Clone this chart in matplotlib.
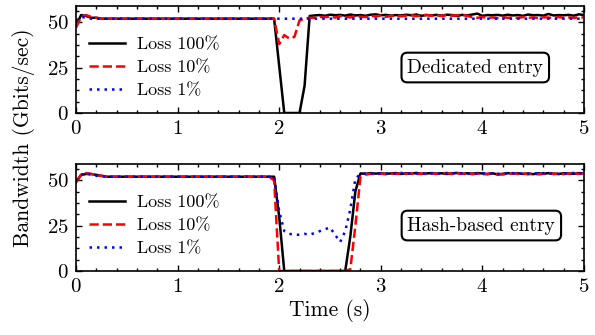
import numpy as np
import matplotlib
matplotlib.use('Agg')
import matplotlib.pyplot as plt

plt.rcParams['font.family'] = 'serif'
plt.rcParams['font.serif'] = ['cmr10']
plt.rcParams['mathtext.fontset'] = 'cm'
plt.rcParams['axes.formatter.use_mathtext'] = True
plt.rcParams['axes.unicode_minus'] = False

# time grid, 0.05 s steps
t = np.round(np.arange(101) * 0.05, 2)

# top panel: dedicated entry
ded_100 = [48, 54, 53.5, 52.5, 52.5, 52, 52, 52, 52, 52,
           52, 52, 52, 52, 52, 52, 52, 52, 52, 52,
           52, 52, 52, 52, 52, 52, 52, 52, 52, 52,
           52, 52, 52, 52, 52, 52, 52, 52, 52, 52,
           26, 0, 0, 0, 0, 15, 53.5, 53.8, 54.0, 53.6,
           54.2, 53.9, 54.1, 53.7, 54.3, 53.8, 54.0, 53.6, 54.2, 54.4,
           53.9, 54.1, 53.7, 54.0, 53.8, 54.2, 53.9, 54.3, 53.6, 54.0,
           53.8, 54.1, 53.7, 54.2, 54.0, 53.5, 54.1, 53.8, 54.3, 54.8,
           53.6, 54.0, 53.9, 54.1, 53.7, 54.2, 53.8, 54.0, 53.6, 54.3,
           53.9, 54.0, 53.7, 54.6, 53.8, 54.0, 53.9, 54.1, 53.7, 54.4,
           54.0]
ded_10 = [47, 53, 54, 53, 52.5, 52, 52, 52, 52, 52,
          52, 52, 52, 52, 52, 52, 52, 52, 52, 52,
          52, 52, 52, 52, 52, 52, 52, 52, 52, 52,
          52, 52, 52, 52, 52, 52, 52, 52, 52, 52,
          38, 43, 41, 42, 51, 52, 52.5, 52.5, 53.0, 52.8,
          53.2, 52.6, 53.4, 53.0, 52.7, 53.5, 53.1, 52.9, 53.6, 53.2,
          53.8, 53.0, 53.5, 53.9, 53.3, 53.7, 54.0, 53.4, 53.8, 54.1,
          53.6, 53.9, 53.5, 54.0, 53.7, 53.9, 54.2, 53.6, 52.8, 52.5,
          52.9, 52.4, 52.7, 52.3, 52.8, 52.5, 52.6, 52.4, 52.9, 52.5,
          52.7, 52.3, 52.8, 52.6, 52.4, 52.9, 52.5, 52.7, 52.4, 52.8,
          52.6]
ded_1 = [51, 53, 52.5, 52, 52, 52, 52, 52, 52, 52,
         52, 52, 52, 52, 52, 52, 52, 52, 52, 52,
         52, 52, 52, 52, 52, 52, 52, 52, 52, 52,
         52, 52, 52, 52, 52, 52, 52, 52, 52, 52,
         52, 52, 52, 52, 52, 52, 52, 52, 52, 52,
         52, 52, 52, 52, 52, 52, 52, 52, 52, 52,
         52, 52, 52, 52, 52, 52, 52, 52, 52, 52,
         52, 52, 52, 52, 52, 52, 52, 52, 52, 52,
         52, 52, 52, 52, 52, 52, 52, 52, 52, 52,
         52, 52, 52, 52, 52, 52, 52, 52, 52, 52,
         52]

# bottom panel: hash-based entry
hash_100 = [49, 53, 53.5, 53.5, 53, 52.5, 52, 52, 52, 52,
            52, 52, 52, 52, 52, 52, 52, 52, 52, 52,
            52, 52, 52, 52, 52, 52, 52, 52, 52, 52,
            52, 52, 52, 52, 52, 52, 52, 52, 52, 52,
            30, 0, 0, 0, 0, 0, 0, 0, 0, 0,
            0, 0, 0, 0, 19, 44, 53.8, 53.6, 54.0, 53.7,
            53.9, 53.6, 53.8, 54.0, 53.5, 53.9, 53.7, 54.1, 53.6, 53.8,
            54.0, 53.7, 53.9, 53.5, 53.8, 54.1, 53.6, 53.9, 53.7, 54.0,
            53.8, 53.4, 53.9, 53.2, 53.6, 54.0, 53.7, 53.9, 53.5, 53.8,
            53.4, 53.9, 53.6, 54.0, 53.7, 53.5, 53.9, 53.8, 53.6, 54.0,
            53.8]
hash_10 = [49, 53, 54, 53.5, 53, 52.5, 52, 52, 52, 52,
           52, 52, 52, 52, 52, 52, 52, 52, 52, 52,
           52, 52, 52, 52, 52, 52, 52, 52, 52, 52,
           52, 52, 52, 52, 52, 52, 52, 52, 52, 50,
           0, 0, 0, 0, 0, 0, 0, 0, 0, 0,
           0, 0, 0, 0, 1, 25, 52, 53.2, 53.6, 53.3,
           53.7, 53.4, 53.8, 53.5, 54.0, 53.6, 53.9, 53.4, 53.7, 53.5,
           53.9, 53.6, 53.8, 54.1, 53.5, 53.9, 53.6, 53.8, 53.4, 53.7,
           53.3, 53.6, 53.9, 53.5, 53.2, 53.7, 53.9, 53.5, 53.8, 53.4,
           53.7, 53.3, 53.6, 53.9, 53.5, 53.8, 53.4, 53.7, 53.9, 53.6,
           53.8]
hash_1 = [50, 53, 54, 53, 52.5, 52.5, 52, 52, 52, 52,
          52, 52, 52, 52, 52, 52, 52, 52, 52, 52,
          52, 52, 52, 52, 52, 52, 52, 52, 52, 52,
          52, 52, 52, 52, 52, 52, 52, 52, 52, 52,
          33, 22, 20.5, 20, 20, 20.5, 20, 21, 22, 23,
          24, 20, 16, 22, 34, 51, 53.5, 53.8, 53.6, 54.0,
          53.7, 53.9, 53.5, 53.8, 54.1, 53.6, 53.9, 53.7, 54.0, 53.5,
          53.8, 54.0, 53.6, 53.9, 53.7, 54.2, 53.8, 53.5, 53.9, 53.7,
          54.0, 53.6, 53.8, 53.5, 53.9, 53.7, 54.0, 53.6, 53.8, 53.5,
          53.9, 53.7, 54.0, 53.6, 53.8, 53.5, 53.9, 53.7, 54.1, 53.8,
          54.0]

labels = ['Loss 100%', 'Loss 10%', 'Loss 1%']
panels = [('Dedicated entry', [ded_100, ded_10, ded_1], 3.93),
          ('Hash-based entry', [hash_100, hash_10, hash_1], 3.99)]
styles = [dict(color='black', ls='-'), dict(color='red', ls='--'),
          dict(color='blue', ls=(0, (1, 2)))]

fig = plt.figure(figsize=(5.95, 3.35), dpi=100)
ax1 = fig.add_axes([0.1277, 0.6627, 0.8538, 0.3194])
ax2 = fig.add_axes([0.1277, 0.191, 0.8538, 0.3194])

for ax, (name, series, tx) in zip([ax1, ax2], panels):
    for y, lab, st in zip(series, labels, styles):
        ax.plot(t, y, lw=1.8, label=lab, **st)
    ax.set_xlim(0, 5)
    ax.set_ylim(0, 59)
    ax.set_xticks([0, 1, 2, 3, 4, 5])
    ax.set_yticks([0, 25, 50])
    ax.set_xticks(np.arange(0, 5.01, 0.2), minor=True)
    ax.set_yticks(np.arange(0, 59, 6.25), minor=True)
    ax.tick_params(which='both', direction='in', top=True, right=True,
                   labelsize=15, pad=5, width=1)
    ax.tick_params(which='major', length=4.5)
    ax.tick_params(which='minor', length=2.5)
    for s in ax.spines.values():
        s.set_linewidth(1.2)
    ax.legend(loc='upper left', bbox_to_anchor=(0.026, 0.71), frameon=False,
              fontsize=13, borderpad=0, borderaxespad=0, handlelength=2,
              handletextpad=0.65, labelspacing=0.4)
    ax.text(tx, 0.425, name, transform=ax.get_xaxis_transform(), fontsize=14,
            ha='center', va='center',
            bbox=dict(boxstyle='round,pad=0.3', fc='white', ec='black', lw=1.5))

ax2.set_xlabel('Time (s)', fontsize=15.5, labelpad=2)
fig.text(0.04, 0.588, 'Bandwidth (Gbits/sec)', rotation=90, fontsize=15.5,
         ha='center', va='center')

fig.savefig('out.png', dpi=100)
